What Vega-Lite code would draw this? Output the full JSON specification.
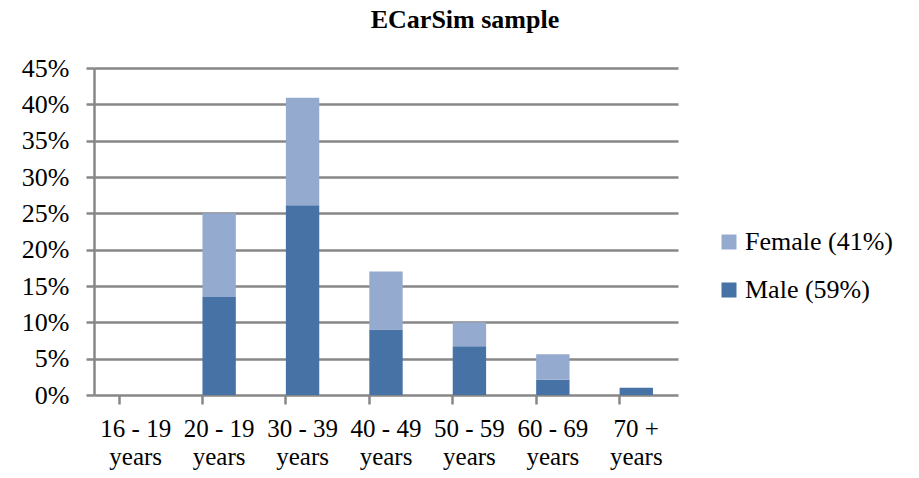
{
  "$schema": "https://vega.github.io/schema/vega-lite/v6.json",
  "width": 584,
  "height": 327,
  "autosize": "none",
  "padding": {"left": 94, "top": 68, "right": 241, "bottom": 83},
  "background": "white",
  "title": {
    "text": "ECarSim sample",
    "font": "Liberation Serif",
    "fontSize": 26,
    "fontWeight": "bold",
    "color": "#000000",
    "anchor": "middle",
    "dx": 79,
    "offset": 22
  },
  "data": {
    "values": [
      {"age": "16 - 19 years", "sex": "Male (59%)", "ord": 0, "share": 0},
      {"age": "16 - 19 years", "sex": "Female (41%)", "ord": 1, "share": 0},
      {"age": "20 - 19 years", "sex": "Male (59%)", "ord": 0, "share": 0.135},
      {"age": "20 - 19 years", "sex": "Female (41%)", "ord": 1, "share": 0.115},
      {"age": "30 - 39 years", "sex": "Male (59%)", "ord": 0, "share": 0.261},
      {"age": "30 - 39 years", "sex": "Female (41%)", "ord": 1, "share": 0.148},
      {"age": "40 - 49 years", "sex": "Male (59%)", "ord": 0, "share": 0.09},
      {"age": "40 - 49 years", "sex": "Female (41%)", "ord": 1, "share": 0.08},
      {"age": "50 - 59 years", "sex": "Male (59%)", "ord": 0, "share": 0.067},
      {"age": "50 - 59 years", "sex": "Female (41%)", "ord": 1, "share": 0.033},
      {"age": "60 - 69 years", "sex": "Male (59%)", "ord": 0, "share": 0.021},
      {"age": "60 - 69 years", "sex": "Female (41%)", "ord": 1, "share": 0.035},
      {"age": "70 + years", "sex": "Male (59%)", "ord": 0, "share": 0.01},
      {"age": "70 + years", "sex": "Female (41%)", "ord": 1, "share": 0}
    ]
  },
  "mark": {"type": "bar"},
  "encoding": {
    "x": {
      "field": "age",
      "type": "nominal",
      "sort": null,
      "scale": {"paddingInner": 0.6, "paddingOuter": 0.3},
      "axis": {
        "title": null,
        "labelAngle": 0,
        "labelFont": "Liberation Serif",
        "labelFontSize": 25,
        "labelColor": "#000000",
        "labelLineHeight": 28,
        "labelPadding": 12,
        "labelExpr": "[replace(datum.label, ' years', ''), 'years']",
        "bandPosition": 0,
        "domain": false,
        "ticks": true,
        "tickSize": 9,
        "tickWidth": 2.5,
        "tickColor": "#878787",
        "grid": false
      }
    },
    "y": {
      "field": "share",
      "type": "quantitative",
      "stack": "zero",
      "scale": {"domain": [0, 0.45], "nice": false},
      "axis": {
        "title": null,
        "values": [0, 0.05, 0.1, 0.15, 0.2, 0.25, 0.3, 0.35, 0.4, 0.45],
        "format": ".0%",
        "labelFont": "Liberation Serif",
        "labelFontSize": 26,
        "labelColor": "#000000",
        "labelPadding": 17,
        "tickSize": 8,
        "tickWidth": 2.5,
        "tickColor": "#878787",
        "domainColor": "#878787",
        "domainWidth": 2.5,
        "grid": true,
        "gridColor": "#878787",
        "gridWidth": 2.5,
        "gridOpacity": 1
      }
    },
    "color": {
      "field": "sex",
      "type": "nominal",
      "scale": {
        "domain": ["Female (41%)", "Male (59%)"],
        "range": ["#95AACF", "#4672A6"]
      },
      "legend": {
        "title": null,
        "orient": "none",
        "legendX": 622,
        "legendY": 161,
        "symbolType": "square",
        "symbolSize": 225,
        "symbolStrokeWidth": 0,
        "labelFont": "Liberation Serif",
        "labelFontSize": 26,
        "labelColor": "#000000",
        "labelOffset": 3,
        "rowPadding": 22
      }
    },
    "order": {"field": "ord", "type": "quantitative"}
  },
  "config": {
    "view": {"stroke": null},
    "axis": {"labelOverlap": false}
  }
}
